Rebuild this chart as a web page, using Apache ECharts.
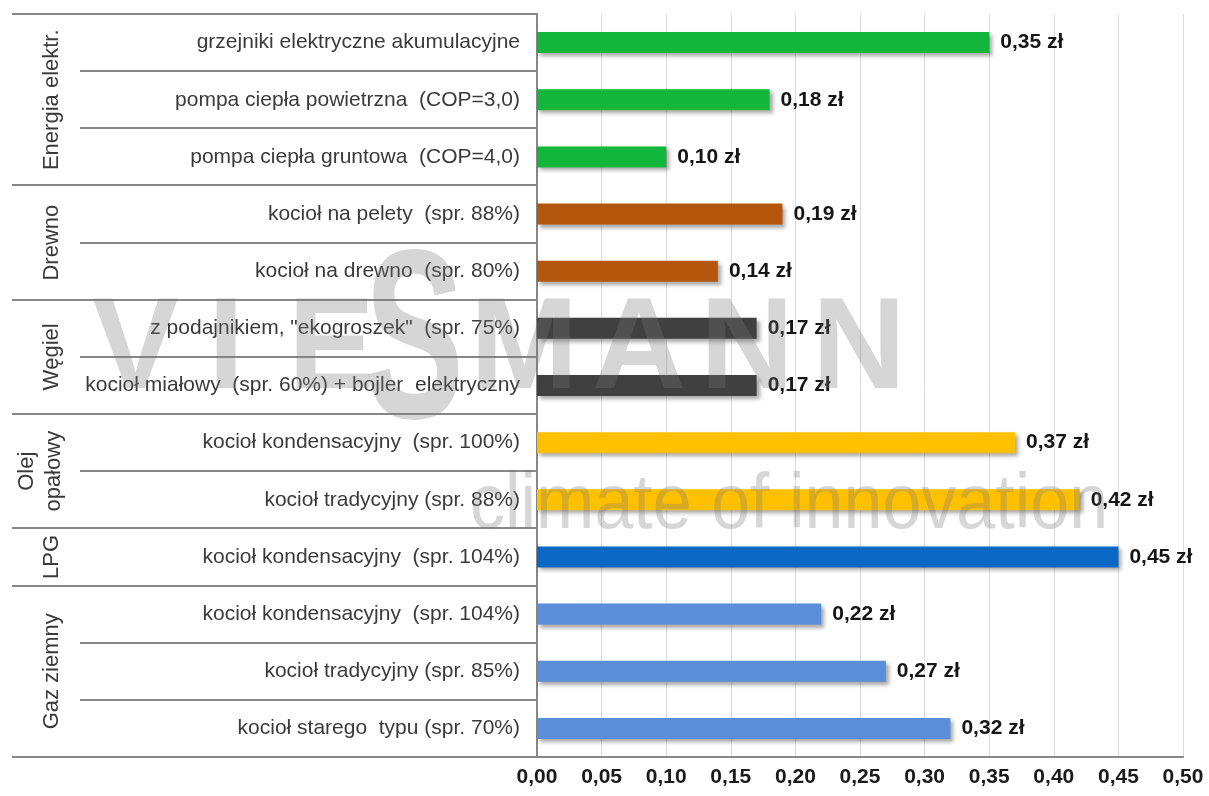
<!DOCTYPE html>
<html>
<head>
<meta charset="utf-8">
<script src="https://cdn.jsdelivr.net/npm/echarts@6/dist/echarts.min.js"></script>
<style>
  html, body { margin: 0; padding: 0; background: #ffffff; }
  #chart { width: 1209px; height: 796px; }
</style>
</head>
<body>
<div id="chart"></div>
<script>
// Heating cost per unit of heat, grouped by fuel type
const categories = [
  'grzejniki elektryczne akumulacyjne',
  'pompa ciepła powietrzna  (COP=3,0)',
  'pompa ciepła gruntowa  (COP=4,0)',
  'kocioł na pelety  (spr. 88%)',
  'kocioł na drewno  (spr. 80%)',
  'z podajnikiem, "ekogroszek"  (spr. 75%)',
  'kocioł miałowy  (spr. 60%) + bojler  elektryczny',
  'kocioł kondensacyjny  (spr. 100%)',
  'kocioł tradycyjny (spr. 88%)',
  'kocioł kondensacyjny  (spr. 104%)',
  'kocioł kondensacyjny  (spr. 104%)',
  'kocioł tradycyjny (spr. 85%)',
  'kocioł starego  typu (spr. 70%)'
];
const costs = [0.35, 0.18, 0.10, 0.19, 0.14, 0.17, 0.17, 0.37, 0.42, 0.45, 0.22, 0.27, 0.32];
const groupNames = ['Energia elektr.', 'Drewno', 'Węgiel', 'Olej\nopałowy', 'LPG', 'Gaz ziemny'];
const groupSizes = [3, 2, 2, 2, 1, 3];
const axisMin = 0;
const axisMax = 0.5;
const axisStep = 0.05;

// one fill colour per fuel group
const groupColors = ['#12b63a', '#b4570c', '#404040', '#ffc000', '#0b67c4', '#5b8ed8'];

const groupOfIndex = [];
groupSizes.forEach((n, g) => { for (let k = 0; k < n; k++) groupOfIndex.push(g); });

const fmt = v => v.toFixed(2).replace('.', ',');
const lineColor = '#878787';
const sans = 'Liberation Sans, Arial, sans-serif';

const chart = echarts.init(document.getElementById('chart'), null, { renderer: 'canvas' });

chart.setOption({
  backgroundColor: '#ffffff',
  animation: false,
  grid: { left: 537, right: 26, top: 14, bottom: 39, containLabel: false },
  xAxis: {
    type: 'value',
    min: axisMin,
    max: axisMax,
    interval: axisStep,
    axisLine: { show: true, lineStyle: { color: lineColor, width: 2 } },
    axisTick: { show: false },
    splitLine: { show: true, lineStyle: { color: '#dcdcdc', width: 1 } },
    axisLabel: {
      formatter: v => fmt(v),
      fontFamily: sans,
      fontWeight: 'bold',
      fontSize: 21,
      color: '#1a1a1a',
      margin: 10
    }
  },
  yAxis: {
    type: 'category',
    data: categories,
    inverse: true,
    axisLine: { show: true, lineStyle: { color: lineColor, width: 2 } },
    axisTick: { show: false },
    splitLine: { show: false },
    axisLabel: {
      fontFamily: sans,
      fontSize: 21,
      color: '#3a3a3a',
      margin: 17
    }
  },
  series: [{
    type: 'bar',
    barWidth: 21,
    data: costs.map((v, i) => ({
      value: v,
      itemStyle: { color: groupColors[groupOfIndex[i]] }
    })),
    itemStyle: {
      shadowBlur: 4,
      shadowOffsetX: 3,
      shadowOffsetY: 3,
      shadowColor: 'rgba(0,0,0,0.35)'
    },
    label: {
      show: true,
      position: 'right',
      distance: 11,
      formatter: p => fmt(p.value) + ' zł',
      fontFamily: sans,
      fontWeight: 'bold',
      fontSize: 21,
      color: '#151515'
    }
  }]
});

// Group separators, group titles and the brand mark, placed from the category scale
function drawExtras() {
  const centers = categories.map((_, i) => chart.convertToPixel({ yAxisIndex: 0 }, i));
  const step = centers[1] - centers[0];
  const axisX = chart.convertToPixel({ xAxisIndex: 0 }, axisMin);
  const rightX = chart.convertToPixel({ xAxisIndex: 0 }, axisMax);
  const graphics = [];

  // boundary lines between rows; group boundaries run further left
  const groupStarts = new Set();
  let acc = 0;
  groupSizes.forEach(n => { groupStarts.add(acc); acc += n; });
  for (let b = 0; b <= categories.length; b++) {
    const y = Math.round(centers[0] - step / 2 + b * step);
    const isGroupEdge = groupStarts.has(b) || b === categories.length;
    const x1 = isGroupEdge ? 12 : 80;
    const x2 = b === categories.length ? rightX : axisX;
    graphics.push({
      type: 'line',
      silent: true,
      z: 5,
      shape: { x1: x1, y1: y, x2: x2, y2: y },
      style: { stroke: lineColor, lineWidth: 2 }
    });
  }

  // rotated group titles
  acc = 0;
  groupSizes.forEach((n, g) => {
    const top = centers[acc] - step / 2;
    const bottom = centers[acc + n - 1] + step / 2;
    const multi = groupNames[g].indexOf('\n') >= 0;
    graphics.push({
      type: 'text',
      silent: true,
      z: 5,
      x: multi ? 40 : 52,
      y: (top + bottom) / 2,
      rotation: Math.PI / 2,
      style: {
        text: groupNames[g],
        align: 'center',
        verticalAlign: 'middle',
        fontFamily: sans,
        fontSize: 22,
        lineHeight: 27,
        fill: '#3a3a3a'
      }
    });
    acc += n;
  });

  // faint brand mark laid over the plot
  const markFill = 'rgba(120,120,120,0.30)';
  const markShadow = { shadowBlur: 3, shadowColor: 'rgba(120,120,120,0.30)' };
  const letters = [
    ['V', 92], ['I', 208], ['E', 288], ['M', 470], ['A', 592], ['N', 700], ['N', 812]
  ];
  letters.forEach(([ch, x]) => {
    graphics.push({
      type: 'text', silent: true, z: 20,
      x: x, y: 352,
      style: Object.assign({
        text: ch, align: 'left', verticalAlign: 'middle',
        fontFamily: sans, fontWeight: 'bold', fontSize: 130, fill: markFill
      }, markShadow)
    });
  });
  graphics.push({
    type: 'text', silent: true, z: 20,
    x: 414, y: 352, scaleX: 1.15, scaleY: 1.85,
    style: Object.assign({
      text: 'S', align: 'center', verticalAlign: 'middle',
      fontFamily: sans, fontWeight: 'bold', fontSize: 130, fill: markFill
    }, markShadow)
  });
  graphics.push({
    type: 'text', silent: true, z: 20,
    x: 470, y: 506, scaleY: 1.12,
    style: Object.assign({
      text: 'climate of innovation', align: 'left', verticalAlign: 'middle',
      fontFamily: 'Liberation Sans Narrow, Liberation Sans, Arial, sans-serif',
      fontSize: 70, fill: 'rgba(120,120,120,0.30)'
    }, markShadow)
  });

  chart.setOption({ graphic: { elements: graphics } });
}

drawExtras();
</script>
</body>
</html>
